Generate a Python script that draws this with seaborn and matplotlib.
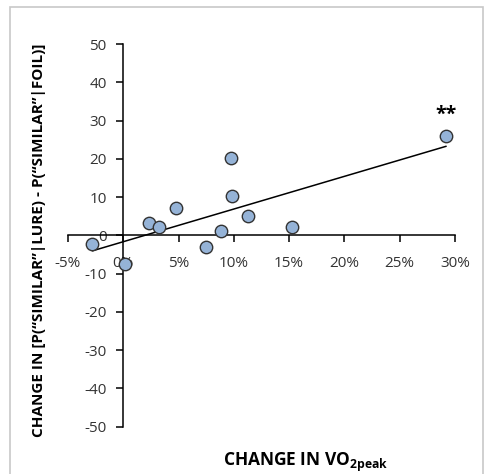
import matplotlib
matplotlib.use("Agg")
import matplotlib.pyplot as plt
from matplotlib.patches import Rectangle
from matplotlib.ticker import FuncFormatter
import seaborn as sns
import pandas as pd

# Data
vo2_change = [29.2, 9.76, 9.87, 4.76, 11.26, 2.35, 3.2, 8.88, 15.3, -2.8, 7.5, 0.18]   # percent
similar_change = [26.0, 20.3, 10.4, 7.25, 5.15, 3.2, 2.2, 1.1, 2.1, -2.2, -3.1, -7.4]
x_ticks = [-5, 0, 5, 10, 15, 20, 25, 30]
y_ticks = [-50, -40, -30, -20, -10, 0, 10, 20, 30, 40, 50]
x_label = "CHANGE IN VO$_\\mathbf{2peak}$"
y_label = "CHANGE IN [P(\u201cSIMILAR\u201d|LURE) - P(\u201cSIMILAR\u201d|FOIL)]"
annot_text = "**"

sns.set_theme(style="white")
plt.rcParams['font.family'] = ['Open Sans', 'DejaVu Sans']
plt.rcParams['axes.unicode_minus'] = False
plt.rcParams['mathtext.fontset'] = 'custom'
plt.rcParams['mathtext.rm'] = 'Open Sans'
plt.rcParams['mathtext.bf'] = 'Open Sans:bold'

df = pd.DataFrame({"vo2": vo2_change, "sim": similar_change})

fig = plt.figure(figsize=(4.85, 4.74), dpi=100)
fig.patch.set_facecolor("white")
ax = fig.add_axes([68 / 485, 1 - 426.7 / 474, 387 / 485, (426.7 - 44) / 474])

sns.regplot(data=df, x="vo2", y="sim", ci=None, truncate=True, ax=ax,
            scatter_kws=dict(s=80, color="#95B3D7", edgecolor="#333333",
                             linewidths=1.0, alpha=1, zorder=3),
            line_kws=dict(color="black", lw=1.1, zorder=2))

ax.set_xlim(-5, 30)
ax.set_ylim(-50, 50)
ax.set_xticks(x_ticks)
ax.set_yticks(y_ticks)
ax.xaxis.set_major_formatter(FuncFormatter(lambda v, p: f"{v:.0f}%"))
ax.set_xlabel("")
ax.set_ylabel("")

for s in ["top", "right"]:
    ax.spines[s].set_visible(False)
ax.spines["left"].set_position(("data", 0))
ax.spines["bottom"].set_position(("data", 0))
for s in ["left", "bottom"]:
    ax.spines[s].set_color("black")
    ax.spines[s].set_linewidth(1.1)

ax.tick_params(axis="x", direction="out", length=5, width=1.1, color="black",
               pad=10, labelsize=11, labelcolor="#333333", bottom=True)
ax.tick_params(axis="y", direction="out", length=5, width=1.1, color="black",
               pad=7, labelsize=11, labelcolor="#333333", left=True)

ax.text(29.2, 31.5, annot_text, ha="center", va="center", fontsize=14,
        fontweight="bold", color="black")

fig.text(306 / 485, 1 - 462 / 474, x_label, ha="center", va="center",
         fontsize=12.5, fontweight="bold", color="black")
fig.text(39 / 485, 1 - 240 / 474, y_label, ha="center", va="center",
         rotation=90, fontsize=11, fontweight="bold", color="black")

fig.patches.append(Rectangle((10 / 485, -0.02), (483 - 10) / 485, 1 - 7 / 474 + 0.02,
                             transform=fig.transFigure, fill=False,
                             edgecolor="#c8c8c8", linewidth=1.2))

fig.savefig("out.png", dpi=100)
